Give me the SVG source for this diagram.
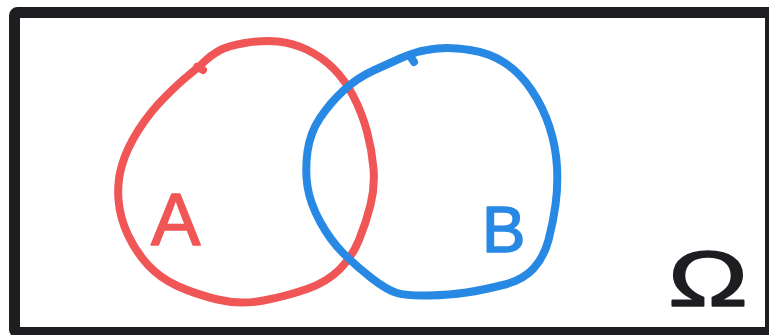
<svg xmlns="http://www.w3.org/2000/svg" width="769" height="335" viewBox="0 0 769 335">
  <style>
    .frame { fill: #ffffff; stroke: #1e1e22; stroke-width: 11; }
    .set { fill: none; stroke-width: 8; stroke-linecap: round; stroke-linejoin: round; }
    .red { stroke: #f05656; }
    .blue { stroke: #2889e5; }
    .lbl { font-family: "Liberation Sans", Arial, sans-serif; stroke-width: 1.6; stroke-linejoin: round; }
  </style>
  <rect width="769" height="335" fill="#ffffff"/>
  <g id="universe">
    <rect class="frame" x="14.5" y="12.5" width="756" height="320" rx="3"/>
    <text class="lbl" x="668" y="306" font-size="78" fill="#1e1e22" stroke="#1e1e22" textLength="80" lengthAdjust="spacingAndGlyphs">Ω</text>
  </g>
  <g id="setA">
    <path class="set red" d="M245,43 Q227,46 218.5,51 Q210,56 205,61 Q200,66 190,74 Q180,82 165,97 Q150,112 138.5,130 Q127,148 122,165 Q117,182 118.5,200 Q120,218 128,235 Q136,252 148,265 Q160,278 177.5,286 Q195,294 217.5,299.5 Q240,305 263.5,300.5 Q287,296 307,289 Q327,282 339.5,269.5 Q352,257 359,240 Q366,223 370.5,205 Q375,187 373.5,168.5 Q372,150 367,131.5 Q362,113 353.5,96.5 Q345,80 333.5,68.5 Q322,57 307.5,50 Q293,43 278,41.5 Q263,40 245,43 Z"/>
    <path class="set red" d="M197,67 L203,70"/>
    <text class="lbl" x="151" y="245" font-size="74" fill="#f05656" stroke="#f05656">A</text>
  </g>
  <g id="setB">
    <path class="set blue" d="M470,50 Q490,53 505,63 Q520,73 531.5,90 Q543,107 549.5,127 Q556,147 557,167 Q558,187 555.5,205 Q553,223 548.5,240 Q544,257 533.5,268.5 Q523,280 503,285 Q483,290 466.5,292.5 Q450,295 428.5,295.5 Q407,296 397,293 Q387,290 372,278.5 Q357,267 343.5,253.5 Q330,240 320,221.5 Q310,203 307.5,186.5 Q305,170 307.5,151.5 Q310,133 320,118 Q330,103 343.5,90.5 Q357,78 373.5,70.5 Q390,63 400,58.5 Q410,54 417.5,52 Q425,50 437.5,48.5 Q450,47 470,50 Z"/>
    <path class="set blue" d="M410,56 L414,62"/>
    <text class="lbl" x="482" y="252" font-size="65" fill="#2889e5" stroke="#2889e5">B</text>
  </g>
  <g id="connectors"/>
</svg>
